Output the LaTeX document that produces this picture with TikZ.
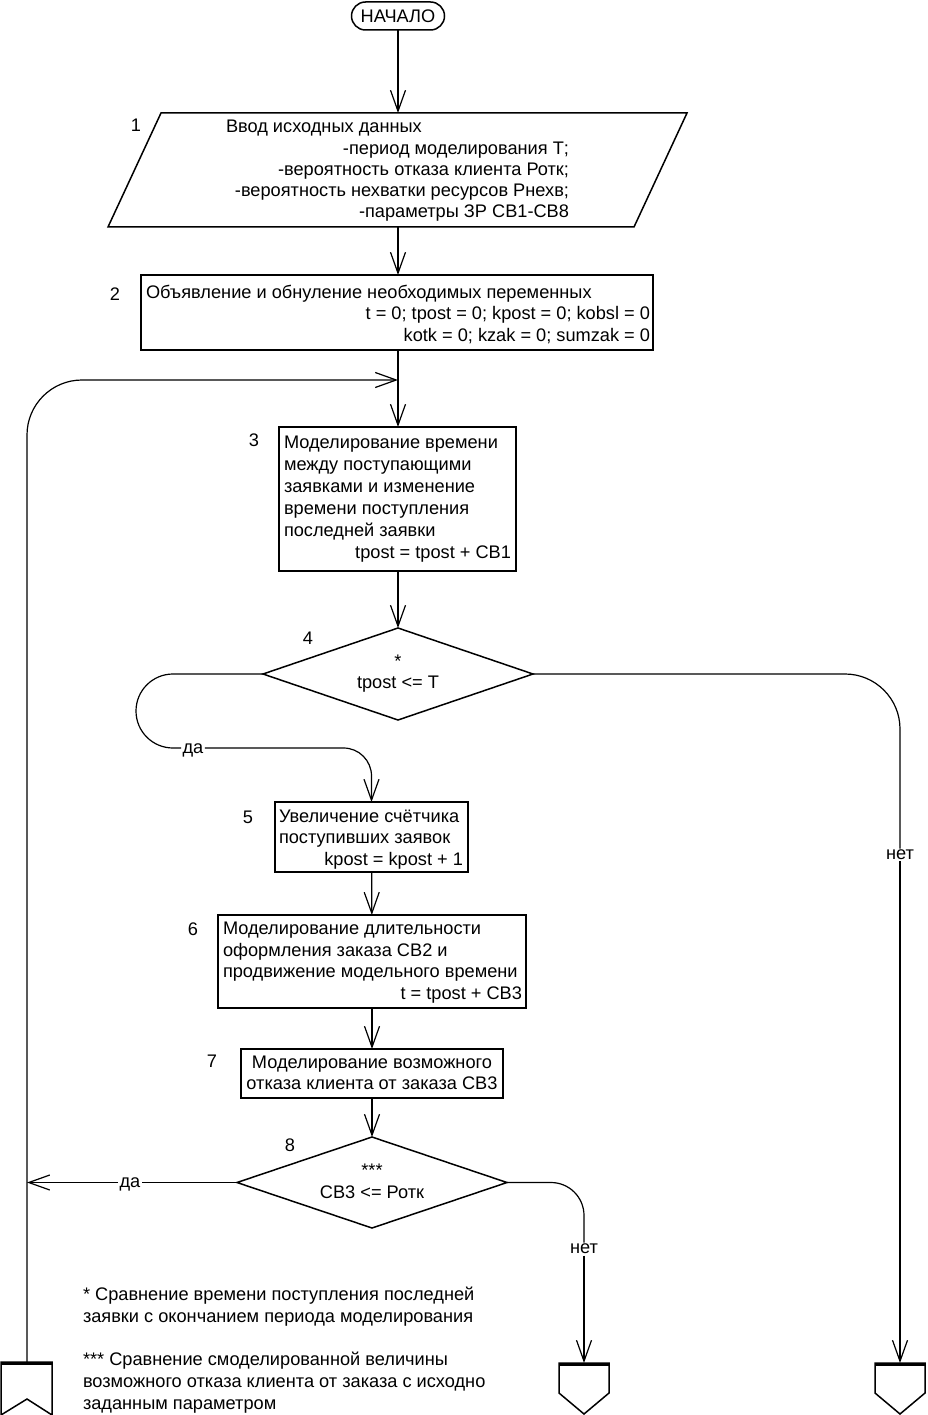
\documentclass[tikz,border=0pt]{standalone}
\usepackage{fontspec}
\setmainfont{Liberation Sans}
\usetikzlibrary{shapes.geometric,arrows.meta}
\tikzset{
  lbl/.style={inner sep=0pt, outer sep=0pt, yshift=-2pt},
  box/.style={draw, line width=1.5pt, inner sep=0pt, outer sep=0pt},
  line/.style={line width=1.2pt},
  conn/.style={line width=1.2pt, -{Straight Barb[length=21pt,width=15pt,line width=1.2pt]}},
  cut/.style={lbl, fill=white, inner sep=1.5pt},
}
\begin{document}
\begin{tikzpicture}[x=1pt,y=-1pt,font=\fontsize{18.2}{22}\selectfont]
\useasboundingbox (0,0) rectangle (927,1415);
% start
\node[box, rounded corners=14pt, minimum width=93pt, minimum height=28pt] (start) at (398,16) {НАЧАЛО};
% block 1: input (parallelogram)
\draw[line width=1.5pt] (161,113) -- (687,113) -- (634,227) -- (108,227) -- cycle;
\coordinate (in1n) at (398,113);
\coordinate (in1s) at (398,227);
\node[lbl] (n1) at (136,123) {1};
\node[lbl, anchor=mid west] (t1a) at (226,128) {Ввод исходных данных};
\node[lbl, anchor=mid east] (t1b) at (569,150) {-период моделирования Т;};
\node[lbl, anchor=mid east] (t1c) at (569,171) {-вероятность отказа клиента Ротк;};
\node[lbl, anchor=mid east] (t1d) at (569,192) {-вероятность нехватки ресурсов Рнехв;};
\node[lbl, anchor=mid east] (t1e) at (569,213) {-параметры ЗР СВ1-СВ8};
% block 2
\node[box, minimum width=512pt, minimum height=75pt] (b2) at (397,312.5) {};
\node[lbl] (n2) at (115,292) {2};
\node[lbl, anchor=mid west] (t2a) at (146,294) {Объявление и обнуление необходимых переменных};
\node[lbl, anchor=mid east] (t2b) at (650,315) {t = 0; tpost = 0; kpost = 0; kobsl = 0};
\node[lbl, anchor=mid east] (t2c) at (650,337) {kotk = 0; kzak = 0; sumzak = 0};
% block 3
\node[box, minimum width=237pt, minimum height=144pt] (b3) at (397.5,499) {};
\node[lbl] (n3) at (254,438) {3};
\node[lbl, anchor=mid west] (t3a) at (284,444) {Моделирование времени};
\node[lbl, anchor=mid west] (t3b) at (284,466) {между поступающими};
\node[lbl, anchor=mid west] (t3c) at (284,488) {заявками и изменение};
\node[lbl, anchor=mid west] (t3d) at (284,510) {времени поступления};
\node[lbl, anchor=mid west] (t3e) at (284,532) {последней заявки};
\node[lbl, anchor=mid east] (t3f) at (511,554) {tpost = tpost + СВ1};
% decision 4
\node[box, diamond, minimum width=270pt, minimum height=92pt] (d4) at (398,674) {};
\node[lbl] (n4) at (308,636) {4};
\node[lbl] (s4) at (398,659) {*};
\node[lbl, anchor=mid] (t4) at (398,684) {tpost <= T};
% block 5
\node[box, minimum width=193pt, minimum height=70pt] (b5) at (371.5,837) {};
\node[lbl] (n5) at (248,815) {5};
\node[lbl, anchor=mid west] (t5a) at (279,818) {Увеличение счётчика};
\node[lbl, anchor=mid west] (t5b) at (279,839) {поступивших заявок};
\node[lbl, anchor=mid east] (t5c) at (463,861) {kpost = kpost + 1};
% block 6
\node[box, minimum width=308pt, minimum height=93pt] (b6) at (372,961.5) {};
\node[lbl] (n6) at (193,927) {6};
\node[lbl, anchor=mid west] (t6a) at (223,930) {Моделирование длительности};
\node[lbl, anchor=mid west] (t6b) at (223,952) {оформления заказа СВ2 и};
\node[lbl, anchor=mid west] (t6c) at (223,973) {продвижение модельного времени};
\node[lbl, anchor=mid east] (t6d) at (522,995) {t = tpost + СВ3};
% block 7
\node[box, minimum width=262pt, minimum height=49pt] (b7) at (372,1073.5) {};
\node[lbl] (n7) at (212,1059) {7};
\node[lbl, anchor=mid] (t7a) at (372,1064) {Моделирование возможного};
\node[lbl, anchor=mid] (t7b) at (372,1085) {отказа клиента от заказа СВ3};
% decision 8
\node[box, diamond, minimum width=270pt, minimum height=91pt] (d8) at (372,1182.5) {};
\node[lbl] (n8) at (290,1143) {8};
\node[lbl] (s8) at (372,1168) {***};
\node[lbl, anchor=mid] (t8) at (372,1194) {СВ3 <= Ротк};
% footnotes
\node[lbl, anchor=mid west] (f1a) at (83,1296) {* Сравнение времени поступления последней};
\node[lbl, anchor=mid west] (f1b) at (83,1318) {заявки с окончанием периода моделирования};
\node[lbl, anchor=mid west] (f2a) at (83,1361) {*** Сравнение смоделированной величины};
\node[lbl, anchor=mid west] (f2b) at (83,1383) {возможного отказа клиента от заказа с исходно};
\node[lbl, anchor=mid west] (f2c) at (83,1405) {заданным параметром};
% off-page connectors
\coordinate (c1) at (27,1362);
\coordinate (c2) at (584,1363);
\coordinate (c3) at (900,1363);
\draw[line width=1.5pt] (1,1415) -- (1,1362) -- (52,1362) -- (52,1415) -- (27,1399) -- cycle;
\draw[line width=1.5pt] (559,1363) -- (609,1363) -- (609,1393) -- (584,1414) -- (559,1393) -- cycle;
\draw[line width=1.5pt] (875,1363) -- (925,1363) -- (925,1393) -- (900,1414) -- (875,1393) -- cycle;
\draw[line width=3pt] (1,1363) -- (52,1363);
\draw[line width=3pt] (559,1364) -- (609,1364);
\draw[line width=3pt] (875,1364) -- (925,1364);
% connectors
\coordinate (m) at (398,380);
\draw[conn] (start) -- (in1n);
\draw[conn] (in1s) -- (b2.north -| in1s);
\draw[line] (b2.south -| m) -- (m);
\draw[conn] (m) -- (b3.north -| m);
\draw[conn, rounded corners=55pt] (c1) -- (c1 |- m) -- (m);
\draw[conn] (b3.south -| d4) -- (d4.north);
% yes branch of 4
\node[cut] (da1) at (193,748) {да};
\draw[line, rounded corners=37pt] (d4.west) -- (136,674) -- (136,748) -- (da1.west |- 136,748);
\draw[conn, rounded corners=28pt] (da1.east |- 136,748) -- (371.5,748) -- (b5.north);
% no branch of 4
\node[cut] (net1) at (900,853) {нет};
\draw[line, rounded corners=55pt] (d4.east) -- (d4.east -| net1) -- (net1.north);
\draw[conn] (net1.south) -- (c3);
\draw[conn] (b5) -- (b6);
\draw[conn] (b6) -- (b7);
\draw[conn] (b7) -- (d8.north);
% yes branch of 8
\node[cut] (da2) at (130,1182.5) {да};
\draw[line] (d8.west) -- (da2.east |- d8.west);
\draw[conn] (da2.west |- d8.west) -- (c1 |- d8.west);
% no branch of 8
\node[cut] (net2) at (584,1247) {нет};
\draw[line, rounded corners=33pt] (d8.east) -- (d8.east -| net2) -- (net2.north);
\draw[conn] (net2.south) -- (c2);
\end{tikzpicture}
\end{document}
